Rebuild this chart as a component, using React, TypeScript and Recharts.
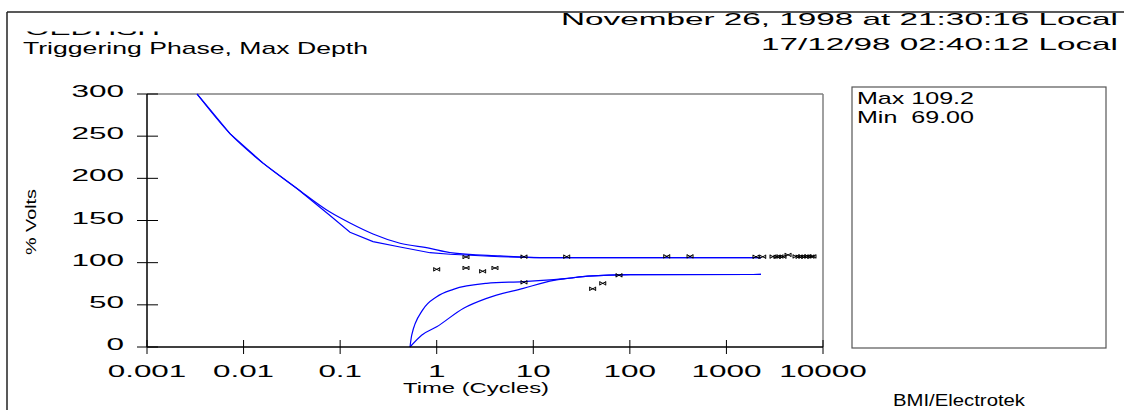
import React from 'react';
import { ComposedChart, Line, Scatter, XAxis, YAxis, ReferenceLine } from 'recharts';

const xTicks = [0.001, 0.01, 0.1, 1, 10, 100, 1000, 10000];
const xTickLabels = ['0.001', '0.01', '0.1', '1', '10', '100', '1000', '10000'];
const yTicks = [0, 50, 100, 150, 200, 250, 300];
const yTickLabels = ['0', '50', '100', '150', '200', '250', '300'];

// upper limit, outer curve (time in cycles, % volts)
const upperOuterT = [0.0033, 0.00723, 0.0159, 0.0357, 0.0785, 0.1265, 0.219, 0.417, 0.853, 1.37, 4.52, 11.7, 2280];
const upperOuterV = [300, 253, 218, 188, 160, 147, 134, 123, 117, 112, 108, 106, 106];

// upper limit, inner curve
const upperInnerT = [0.0033, 0.00723, 0.0159, 0.0357, 0.0785, 0.1265, 0.219, 0.417, 0.853, 1.37, 4.52, 11.7, 2280];
const upperInnerV = [300, 253, 218, 188, 156, 136, 125, 118.6, 111.8, 110, 107, 106, 106];

// lower limit, fast curve
const lowerFastT = [0.529, 0.551, 0.716, 1.0, 1.486, 3.29, 7.88, 16.3, 21.3, 36.7, 102, 2280];
const lowerFastV = [0, 14, 44, 59.7, 68.4, 75.5, 77.6, 80, 81, 84, 85.8, 86];

// lower limit, slow curve
const lowerSlowT = [0.529, 0.697, 1.0, 1.9, 3.29, 7.88, 16.3, 21.3, 36.7, 102, 2280];
const lowerSlowV = [0, 14, 24, 46, 57.7, 69.6, 79, 81, 84, 85.8, 86];

// measured events
const eventT = [1.0, 2.01, 2.01, 2.99, 4.01, 8.01, 8.01, 22.2, 41.2, 52.4, 77.2, 241, 420, 2024, 2376,
  3036, 3340, 3590, 3855, 4345, 5255, 5645, 6065, 6515, 7000, 7515, 7875];
const eventV = [92.1, 106.7, 93.7, 89.8, 93.7, 107.1, 76.7, 107.1, 69.0, 75.5, 85.0, 107.5, 107.5, 107.0, 107.0,
  107.2, 106.9, 107.3, 107.1, 109.2, 107.4, 107.0, 107.3, 107.1, 107.5, 107.2, 107.4];

const zip = (t: number[], v: number[]) => t.map((tt, i) => ({ t: tt, v: v[i] }));

const upperOuter = zip(upperOuterT, upperOuterV);
const upperInner = zip(upperInnerT, upperInnerV);
const lowerFast = zip(lowerFastT, lowerFastV);
const lowerSlow = zip(lowerSlowT, lowerSlowV);
const events = zip(eventT, eventV);

const FONT = '"Liberation Sans", Arial, sans-serif';

const labelWidth = (s: string) => s.replace(/[^0-9]/g, '').length * 17.5 + (s.includes('.') ? 8.5 : 0);

const XTick = (props: any) => {
  const { x, y, payload } = props;
  const label = xTickLabels[xTicks.indexOf(payload.value)] ?? String(payload.value);
  return (
    <g>
      <line x1={x} x2={x} y1={y - 7} y2={y + 7} stroke="#000" />
      <text x={x} y={y + 30} textAnchor="middle" fontSize={17} fontFamily={FONT} fill="#000"
        textLength={labelWidth(label)} lengthAdjust="spacingAndGlyphs">{label}</text>
    </g>
  );
};

const YTick = (props: any) => {
  const { x, y, payload } = props;
  const label = yTickLabels[yTicks.indexOf(payload.value)] ?? String(payload.value);
  return (
    <g>
      <line x1={x - 10} x2={x + 11} y1={y} y2={y} stroke="#000" />
      <text x={x - 23} y={y + 3} textAnchor="end" fontSize={17} fontFamily={FONT} fill="#000"
        textLength={labelWidth(label)} lengthAdjust="spacingAndGlyphs">{label}</text>
    </g>
  );
};

const Marker = (props: any) => {
  const { cx, cy } = props;
  return (
    <path d={`M${cx - 3},${cy - 2}v4M${cx + 3},${cy - 2}v4M${cx - 3},${cy - 1.5}L${cx + 3},${cy + 1.5}M${cx - 3},${cy + 1.5}L${cx + 3},${cy - 1.5}`}
      stroke="#000" strokeWidth={1} fill="none" />
  );
};

const T = (p: { x: number; y: number; w: number; s?: number; anchor?: string; children: string; pre?: boolean }) => (
  <text x={p.x} y={p.y} fontSize={p.s ?? 17} fontFamily={FONT} fill="#000" textAnchor={p.anchor ?? 'start'}
    textLength={p.w} lengthAdjust="spacingAndGlyphs" style={p.pre ? { whiteSpace: 'pre' } : undefined}>
    {p.children}
  </text>
);

export default function App() {
  return (
    <div style={{ position: 'absolute', left: 0, top: 0, width: 1124, height: 410, background: '#fff', overflow: 'hidden' }}>
      <div style={{ position: 'absolute', left: 0, top: 0 }}>
        <ComposedChart width={1124} height={410} margin={{ top: 94, right: 301, bottom: 33, left: 87 }}>
          <XAxis dataKey="t" type="number" scale="log" domain={[0.001, 10000]} ticks={xTicks} interval={0}
            allowDataOverflow tickSize={0} tickMargin={0} tickLine={false} tick={<XTick />} height={30}
            axisLine={{ stroke: '#000', strokeWidth: 1.5 }} />
          <YAxis dataKey="v" type="number" domain={[0, 300]} ticks={yTicks} interval={0} width={60}
            tickSize={0} tickMargin={0} tickLine={false} tick={<YTick />}
            axisLine={{ stroke: '#000', strokeWidth: 1.5 }} />
          <ReferenceLine y={300} stroke="#808080" strokeWidth={1.5} />
          <ReferenceLine x={10000} stroke="#808080" strokeWidth={1.5} />
          <Line data={upperOuter} dataKey="v" type="monotone" stroke="#0000ff" strokeWidth={1.2} dot={false} isAnimationActive={false} />
          <Line data={upperInner} dataKey="v" type="linear" stroke="#0000ff" strokeWidth={1.2} dot={false} isAnimationActive={false} />
          <Line data={lowerFast} dataKey="v" type="monotone" stroke="#0000ff" strokeWidth={1.2} dot={false} isAnimationActive={false} />
          <Line data={lowerSlow} dataKey="v" type="monotone" stroke="#0000ff" strokeWidth={1.2} dot={false} isAnimationActive={false} />
          <Scatter data={events} dataKey="v" shape={<Marker />} isAnimationActive={false} />
        </ComposedChart>
      </div>
      <svg width={1124} height={410} style={{ position: 'absolute', left: 0, top: 0, pointerEvents: 'none' }}>
        <defs>
          <clipPath id="garble">
            <rect x={0} y={31.5} width={300} height={6} />
          </clipPath>
        </defs>
        <line x1={7} x2={1124} y1={12} y2={12} stroke="#222" strokeWidth={1.5} />
        <line x1={7} x2={7} y1={12} y2={410} stroke="#222" strokeWidth={1.5} />
        <g clipPath="url(#garble)">
          <T x={25} y={35} w={135}>OEDHSH</T>
        </g>
        <T x={23} y={54} w={345}>Triggering Phase, Max Depth</T>
        <T x={1118} y={25} w={557} anchor="end">November 26, 1998 at 21:30:16 Local</T>
        <T x={1118} y={50} w={357} anchor="end">17/12/98 02:40:12 Local</T>
        <rect x={852} y={87} width={254} height={261} fill="none" stroke="#555" strokeWidth={1.2} />
        <T x={857} y={104} w={117}>Max 109.2</T>
        <T x={857} y={123} w={117} pre>{'Min  69.00'}</T>
        <T x={476} y={393} w={146} s={15} anchor="middle">Time (Cycles)</T>
        <T x={893} y={406} w={132} s={16}>BMI/Electrotek</T>
        <g transform="translate(36,222) rotate(-90)">
          <T x={0} y={0} w={66} s={14} anchor="middle">% Volts</T>
        </g>
      </svg>
    </div>
  );
}
